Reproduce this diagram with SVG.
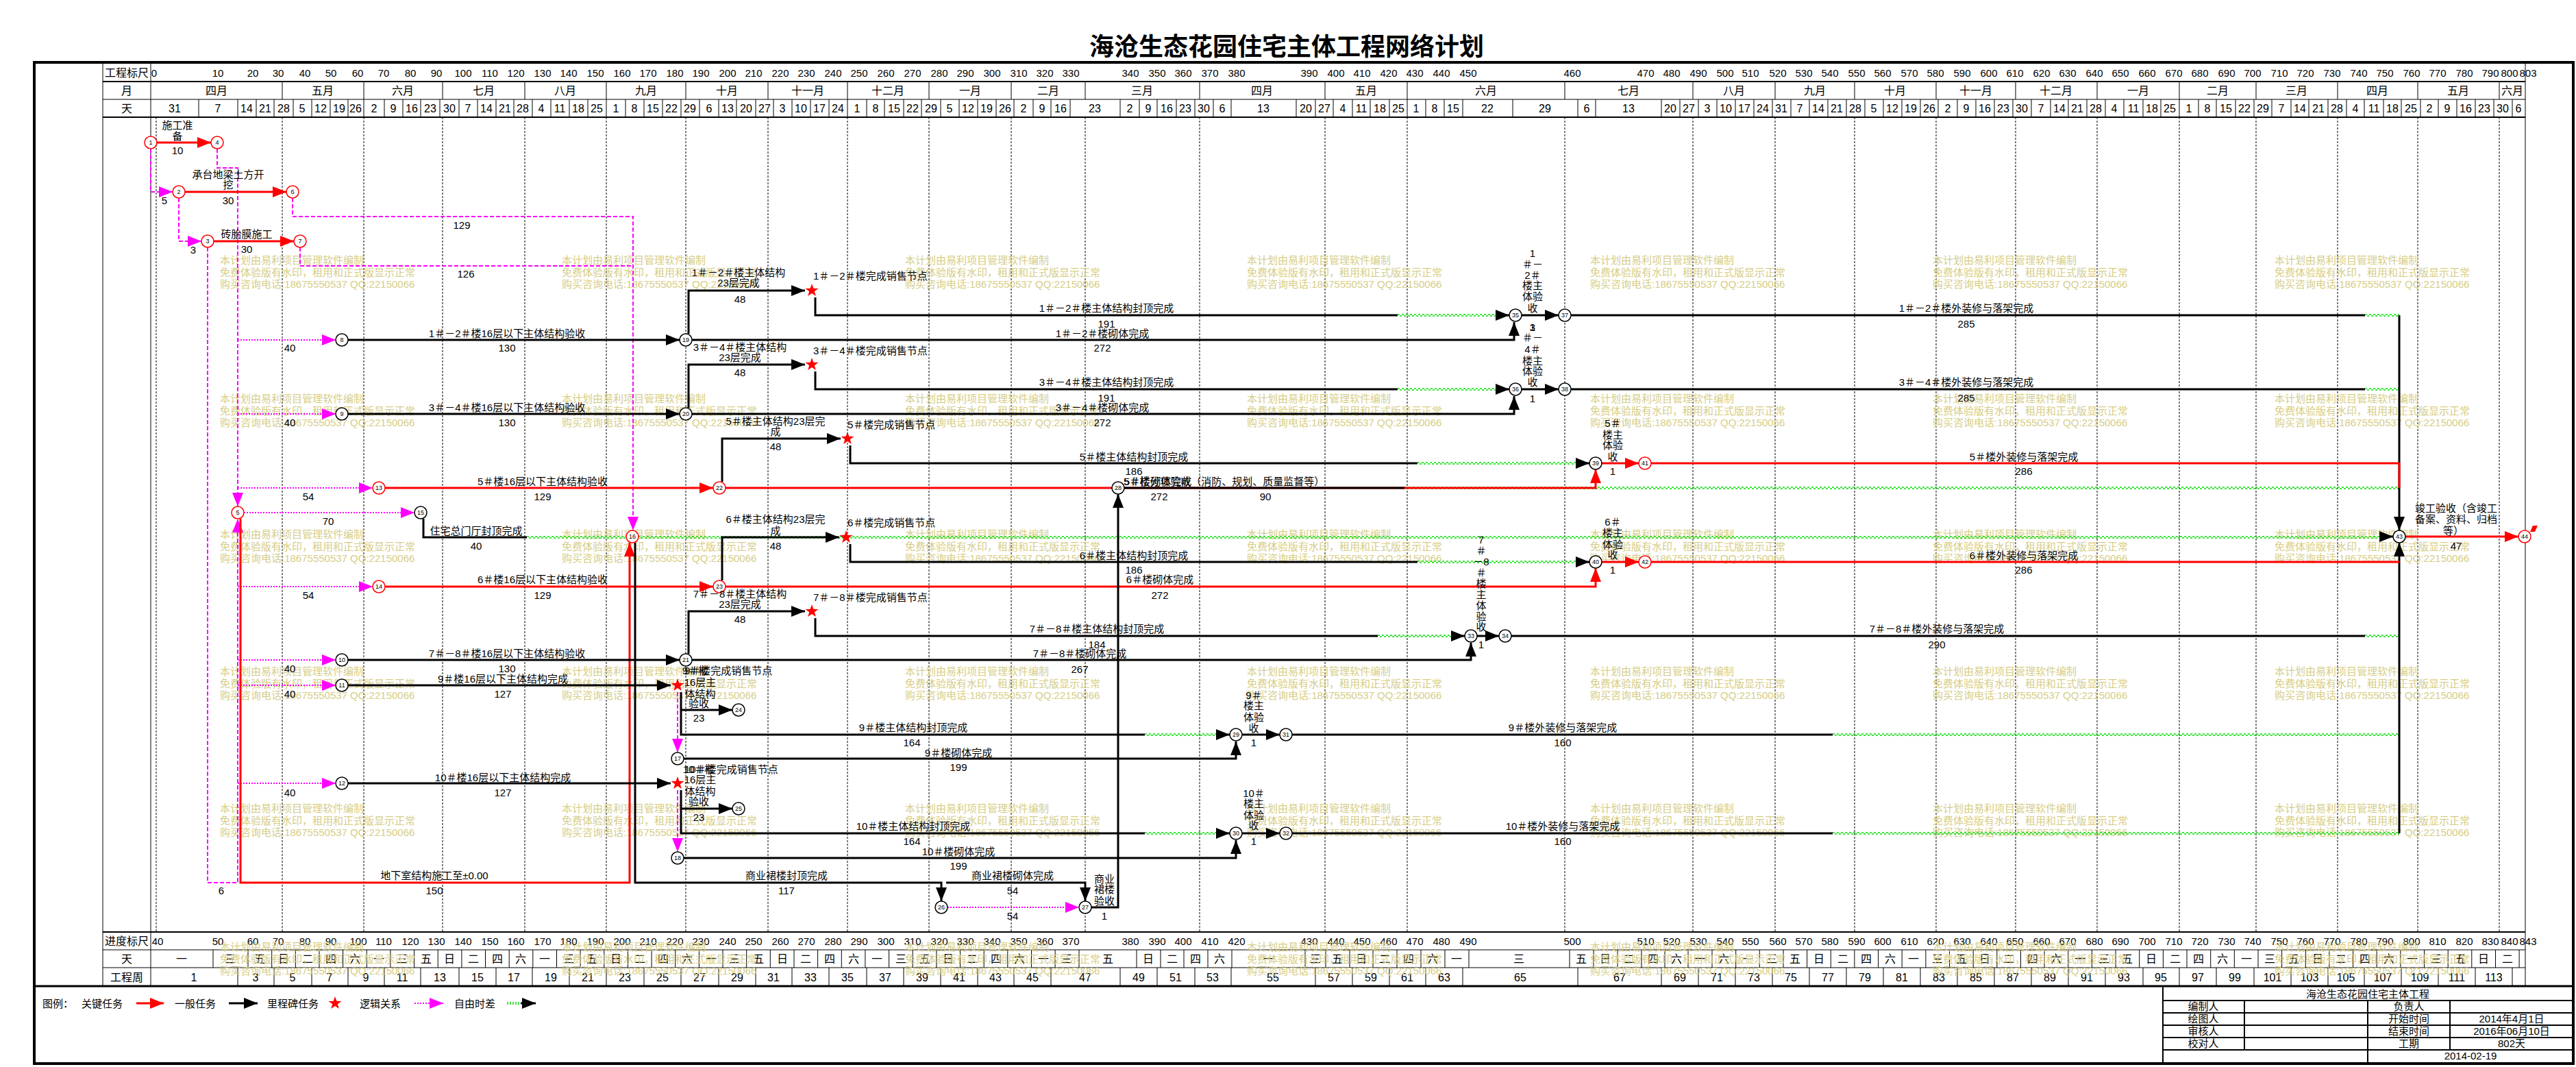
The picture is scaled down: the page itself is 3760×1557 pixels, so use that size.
<svg xmlns="http://www.w3.org/2000/svg" width="3760" height="1557" viewBox="0 0 3760 1557">
<style>
text{font-family:"Liberation Sans","Noto Sans CJK SC",sans-serif;fill:#000}
.c{font-size:16px;text-anchor:middle}
.r{font-size:15px;text-anchor:middle}
.t{font-size:15px;text-anchor:middle}
.s{font-size:15px}
.wm{font-size:15px;fill:#d6cd86}
.nt{font-size:9px;text-anchor:middle}
.tt{font-size:36px;font-weight:bold;text-anchor:middle}
.crit{stroke:#f00;stroke-width:3;fill:none}
.norm{stroke:#000;stroke-width:3;fill:none}
.lh{stroke:#f0f;stroke-width:2;stroke-dasharray:2 2;fill:none}
.lv{stroke:#f0f;stroke-width:2;stroke-dasharray:6 3;fill:none}
.gz{stroke:#00dd00;stroke-width:1.3;stroke-dasharray:3 3;fill:none}
.nr{fill:#fff;stroke:#f00;stroke-width:1.5}
.nb{fill:#fff;stroke:#000;stroke-width:1.5}
.g1{stroke:#000;stroke-width:1;fill:none}
.g2{stroke:#000;stroke-width:2;fill:none}
.md{stroke:#000;stroke-width:1;stroke-dasharray:3 2;fill:none}
</style>
<defs>
<marker id="aR" viewBox="0 0 20 16" refX="20" refY="8" markerWidth="20" markerHeight="16" markerUnits="userSpaceOnUse" orient="auto"><path d="M0,0L20,8L0,16z" fill="#f00"/></marker>
<marker id="aK" viewBox="0 0 20 16" refX="20" refY="8" markerWidth="20" markerHeight="16" markerUnits="userSpaceOnUse" orient="auto"><path d="M0,0L20,8L0,16z" fill="#000"/></marker>
<marker id="aM" viewBox="0 0 20 16" refX="20" refY="8" markerWidth="20" markerHeight="16" markerUnits="userSpaceOnUse" orient="auto"><path d="M0,0L20,8L0,16z" fill="#f0f"/></marker>
<path id="star" d="M0,-10L2.35,-3.24L9.51,-3.09L3.8,1.24L5.88,8.09L0,4L-5.88,8.09L-3.8,1.24L-9.51,-3.09L-2.35,-3.24Z" fill="#f00"/>
<g id="wm"><text class="wm" x="0" y="0">本计划由易利项目管理软件编制</text><text class="wm" x="0" y="18">免费体验版有水印，租用和正式版显示正常</text><text class="wm" x="0" y="35">购买咨询电话:18675550537 QQ:22150066</text></g>
</defs>
<rect width="3760" height="1557" fill="#fff"/>

<text class="tt" x="1878" y="81">海沧生态花园住宅主体工程网络计划</text>

<g id="frame">
<rect x="50" y="91" width="3706" height="1461" fill="none" stroke="#000" stroke-width="4"/>
<path class="g2" d="M150,119H3686M150,171H3686M150,1360H3686"/>
<path class="g1" d="M150,145H3686M150,1386H3686M150,1412H3686M150,93V1439M220,93V1439M3686,93V1439"/>
<path d="M50,1439H3756" stroke="#000" stroke-width="3"/>
<path class="md" d="M228,171V1360"/>
</g>

<g id="header">
<text class="c" x="185" y="112">工程标尺</text>
<text class="c" x="185" y="138">月</text>
<text class="c" x="185" y="164">天</text>
<text class="c" x="185" y="1379">进度标尺</text>
<text class="c" x="185" y="1405">天</text>
<text class="c" x="185" y="1432">工程周</text>
<text class="r" y="112"><tspan x="225">0</tspan><tspan x="318">10</tspan><tspan x="369">20</tspan><tspan x="406">30</tspan><tspan x="445">40</tspan><tspan x="483">50</tspan><tspan x="522">60</tspan><tspan x="560">70</tspan><tspan x="599">80</tspan><tspan x="637">90</tspan><tspan x="676">100</tspan><tspan x="715">110</tspan><tspan x="753">120</tspan><tspan x="792">130</tspan><tspan x="830">140</tspan><tspan x="869">150</tspan><tspan x="908">160</tspan><tspan x="946">170</tspan><tspan x="985">180</tspan><tspan x="1023">190</tspan><tspan x="1062">200</tspan><tspan x="1100">210</tspan><tspan x="1139">220</tspan><tspan x="1177">230</tspan><tspan x="1216">240</tspan><tspan x="1254">250</tspan><tspan x="1293">260</tspan><tspan x="1332">270</tspan><tspan x="1371">280</tspan><tspan x="1409">290</tspan><tspan x="1448">300</tspan><tspan x="1487">310</tspan><tspan x="1525">320</tspan><tspan x="1563">330</tspan><tspan x="1650">340</tspan><tspan x="1689">350</tspan><tspan x="1727">360</tspan><tspan x="1766">370</tspan><tspan x="1805">380</tspan><tspan x="1911">390</tspan><tspan x="1950">400</tspan><tspan x="1988">410</tspan><tspan x="2027">420</tspan><tspan x="2065">430</tspan><tspan x="2104">440</tspan><tspan x="2143">450</tspan><tspan x="2295">460</tspan><tspan x="2402">470</tspan><tspan x="2440">480</tspan><tspan x="2479">490</tspan><tspan x="2518">500</tspan><tspan x="2555">510</tspan><tspan x="2595">520</tspan><tspan x="2633">530</tspan><tspan x="2671">540</tspan><tspan x="2710">550</tspan><tspan x="2748">560</tspan><tspan x="2787">570</tspan><tspan x="2825">580</tspan><tspan x="2864">590</tspan><tspan x="2903">600</tspan><tspan x="2941">610</tspan><tspan x="2980">620</tspan><tspan x="3018">630</tspan><tspan x="3057">640</tspan><tspan x="3095">650</tspan><tspan x="3134">660</tspan><tspan x="3173">670</tspan><tspan x="3211">680</tspan><tspan x="3250">690</tspan><tspan x="3288">700</tspan><tspan x="3327">710</tspan><tspan x="3365">720</tspan><tspan x="3404">730</tspan><tspan x="3443">740</tspan><tspan x="3481">750</tspan><tspan x="3520">760</tspan><tspan x="3558">770</tspan><tspan x="3597">780</tspan><tspan x="3635">790</tspan><tspan x="3663">800</tspan><tspan x="3690">803</tspan></text>
<text class="r" y="1379"><tspan x="230">40</tspan><tspan x="318">50</tspan><tspan x="369">60</tspan><tspan x="406">70</tspan><tspan x="445">80</tspan><tspan x="483">90</tspan><tspan x="523">100</tspan><tspan x="560">110</tspan><tspan x="599">120</tspan><tspan x="637">130</tspan><tspan x="676">140</tspan><tspan x="715">150</tspan><tspan x="753">160</tspan><tspan x="792">170</tspan><tspan x="830">180</tspan><tspan x="869">190</tspan><tspan x="908">200</tspan><tspan x="946">210</tspan><tspan x="985">220</tspan><tspan x="1023">230</tspan><tspan x="1062">240</tspan><tspan x="1100">250</tspan><tspan x="1139">260</tspan><tspan x="1177">270</tspan><tspan x="1216">280</tspan><tspan x="1254">290</tspan><tspan x="1293">300</tspan><tspan x="1332">310</tspan><tspan x="1371">320</tspan><tspan x="1409">330</tspan><tspan x="1448">340</tspan><tspan x="1487">350</tspan><tspan x="1525">360</tspan><tspan x="1563">370</tspan><tspan x="1650">380</tspan><tspan x="1689">390</tspan><tspan x="1727">400</tspan><tspan x="1766">410</tspan><tspan x="1805">420</tspan><tspan x="1911">430</tspan><tspan x="1950">440</tspan><tspan x="1988">450</tspan><tspan x="2027">460</tspan><tspan x="2065">470</tspan><tspan x="2104">480</tspan><tspan x="2143">490</tspan><tspan x="2295">500</tspan><tspan x="2402">510</tspan><tspan x="2440">520</tspan><tspan x="2479">530</tspan><tspan x="2518">540</tspan><tspan x="2555">550</tspan><tspan x="2595">560</tspan><tspan x="2633">570</tspan><tspan x="2671">580</tspan><tspan x="2710">590</tspan><tspan x="2748">600</tspan><tspan x="2787">610</tspan><tspan x="2825">620</tspan><tspan x="2864">630</tspan><tspan x="2903">640</tspan><tspan x="2941">650</tspan><tspan x="2980">660</tspan><tspan x="3018">670</tspan><tspan x="3057">680</tspan><tspan x="3095">690</tspan><tspan x="3134">700</tspan><tspan x="3173">710</tspan><tspan x="3211">720</tspan><tspan x="3250">730</tspan><tspan x="3288">740</tspan><tspan x="3327">750</tspan><tspan x="3365">760</tspan><tspan x="3404">770</tspan><tspan x="3443">780</tspan><tspan x="3481">790</tspan><tspan x="3520">800</tspan><tspan x="3558">810</tspan><tspan x="3597">820</tspan><tspan x="3635">830</tspan><tspan x="3663">840</tspan><tspan x="3690">843</tspan></text>
<text class="c" y="138"><tspan x="316">四月</tspan><tspan x="471">五月</tspan><tspan x="588">六月</tspan><tspan x="706">七月</tspan><tspan x="825">八月</tspan><tspan x="943">九月</tspan><tspan x="1061">十月</tspan><tspan x="1179">十一月</tspan><tspan x="1296">十二月</tspan><tspan x="1416">一月</tspan><tspan x="1530">二月</tspan><tspan x="1667">三月</tspan><tspan x="1842">四月</tspan><tspan x="1994">五月</tspan><tspan x="2169">六月</tspan><tspan x="2377">七月</tspan><tspan x="2531">八月</tspan><tspan x="2649">九月</tspan><tspan x="2766">十月</tspan><tspan x="2884">十一月</tspan><tspan x="3001">十二月</tspan><tspan x="3121">一月</tspan><tspan x="3237">二月</tspan><tspan x="3352">三月</tspan><tspan x="3470">四月</tspan><tspan x="3588">五月</tspan><tspan x="3667">六月</tspan></text>
<path class="g1" d="M412,119v26M531,119v26M646,119v26M766,119v26M885,119v26M1001,119v26M1121,119v26M1237,119v26M1356,119v26M1476,119v26M1584,119v26M1751,119v26M1934,119v26M2054,119v26M2284,119v26M2471,119v26M2591,119v26M2707,119v26M2826,119v26M2942,119v26M3061,119v26M3181,119v26M3293,119v26M3412,119v26M3529,119v26M3648,119v26"/>
<path class="md" d="M412,171V1360M531,171V1360M646,171V1360M766,171V1360M885,171V1360M1001,171V1360M1121,171V1360M1237,171V1360M1356,171V1360M1476,171V1360M1584,171V1360M1751,171V1360M1934,171V1360M2054,171V1360M2284,171V1360M2471,171V1360M2591,171V1360M2707,171V1360M2826,171V1360M2942,171V1360M3061,171V1360M3181,171V1360M3293,171V1360M3412,171V1360M3529,171V1360M3648,171V1360"/>
<text class="c" y="164"><tspan x="255">31</tspan><tspan x="318">7</tspan><tspan x="360">14</tspan><tspan x="387">21</tspan><tspan x="414">28</tspan><tspan x="441">5</tspan><tspan x="468">12</tspan><tspan x="495">19</tspan><tspan x="519">26</tspan><tspan x="546">2</tspan><tspan x="574">9</tspan><tspan x="601">16</tspan><tspan x="628">23</tspan><tspan x="656">30</tspan><tspan x="683">7</tspan><tspan x="710">14</tspan><tspan x="737">21</tspan><tspan x="763">28</tspan><tspan x="790">4</tspan><tspan x="817">11</tspan><tspan x="844">18</tspan><tspan x="871">25</tspan><tspan x="899">1</tspan><tspan x="926">8</tspan><tspan x="953">15</tspan><tspan x="980">22</tspan><tspan x="1007">29</tspan><tspan x="1035">6</tspan><tspan x="1062">13</tspan><tspan x="1089">20</tspan><tspan x="1116">27</tspan><tspan x="1142">3</tspan><tspan x="1169">10</tspan><tspan x="1196">17</tspan><tspan x="1223">24</tspan><tspan x="1251">1</tspan><tspan x="1278">8</tspan><tspan x="1305">15</tspan><tspan x="1332">22</tspan><tspan x="1359">29</tspan><tspan x="1386">5</tspan><tspan x="1413">12</tspan><tspan x="1440">19</tspan><tspan x="1467">26</tspan><tspan x="1494">2</tspan><tspan x="1521">9</tspan><tspan x="1548">16</tspan><tspan x="1598">23</tspan><tspan x="1649">2</tspan><tspan x="1676">9</tspan><tspan x="1703">16</tspan><tspan x="1730">23</tspan><tspan x="1757">30</tspan><tspan x="1784">6</tspan><tspan x="1844">13</tspan><tspan x="1906">20</tspan><tspan x="1933">27</tspan><tspan x="1960">4</tspan><tspan x="1987">11</tspan><tspan x="2014">18</tspan><tspan x="2041">25</tspan><tspan x="2067">1</tspan><tspan x="2094">8</tspan><tspan x="2121">15</tspan><tspan x="2171">22</tspan><tspan x="2255">29</tspan><tspan x="2316">6</tspan><tspan x="2377">13</tspan><tspan x="2438">20</tspan><tspan x="2465">27</tspan><tspan x="2492">3</tspan><tspan x="2519">10</tspan><tspan x="2546">17</tspan><tspan x="2573">24</tspan><tspan x="2600">31</tspan><tspan x="2627">7</tspan><tspan x="2654">14</tspan><tspan x="2681">21</tspan><tspan x="2708">28</tspan><tspan x="2735">5</tspan><tspan x="2762">12</tspan><tspan x="2789">19</tspan><tspan x="2816">26</tspan><tspan x="2843">2</tspan><tspan x="2870">9</tspan><tspan x="2897">16</tspan><tspan x="2924">23</tspan><tspan x="2951">30</tspan><tspan x="2979">7</tspan><tspan x="3006">14</tspan><tspan x="3032">21</tspan><tspan x="3059">28</tspan><tspan x="3086">4</tspan><tspan x="3114">11</tspan><tspan x="3141">18</tspan><tspan x="3167">25</tspan><tspan x="3195">1</tspan><tspan x="3222">8</tspan><tspan x="3249">15</tspan><tspan x="3276">22</tspan><tspan x="3303">29</tspan><tspan x="3330">7</tspan><tspan x="3357">14</tspan><tspan x="3384">21</tspan><tspan x="3411">28</tspan><tspan x="3438">4</tspan><tspan x="3465">11</tspan><tspan x="3492">18</tspan><tspan x="3519">25</tspan><tspan x="3546">2</tspan><tspan x="3572">9</tspan><tspan x="3599">16</tspan><tspan x="3626">23</tspan><tspan x="3653">30</tspan><tspan x="3676">6</tspan></text>
<path class="g1" d="M290,145v26M347,145v26M374,145v26M400,145v26M428,145v26M455,145v26M482,145v26M508,145v26M531,145v26M561,145v26M588,145v26M614,145v26M642,145v26M670,145v26M697,145v26M724,145v26M750,145v26M777,145v26M804,145v26M831,145v26M858,145v26M885,145v26M913,145v26M940,145v26M967,145v26M994,145v26M1021,145v26M1049,145v26M1075,145v26M1103,145v26M1129,145v26M1156,145v26M1183,145v26M1210,145v26M1237,145v26M1265,145v26M1291,145v26M1319,145v26M1345,145v26M1373,145v26M1400,145v26M1427,145v26M1454,145v26M1480,145v26M1508,145v26M1534,145v26M1562,145v26M1635,145v26M1663,145v26M1689,145v26M1717,145v26M1744,145v26M1771,145v26M1797,145v26M1892,145v26M1920,145v26M1946,145v26M1974,145v26M2000,145v26M2028,145v26M2054,145v26M2081,145v26M2108,145v26M2135,145v26M2208,145v26M2303,145v26M2329,145v26M2425,145v26M2452,145v26M2479,145v26M2506,145v26M2533,145v26M2560,145v26M2587,145v26M2614,145v26M2641,145v26M2668,145v26M2695,145v26M2722,145v26M2749,145v26M2776,145v26M2803,145v26M2829,145v26M2857,145v26M2884,145v26M2911,145v26M2938,145v26M2965,145v26M2993,145v26M3019,145v26M3046,145v26M3073,145v26M3100,145v26M3128,145v26M3154,145v26M3181,145v26M3209,145v26M3235,145v26M3263,145v26M3290,145v26M3316,145v26M3344,145v26M3370,145v26M3398,145v26M3425,145v26M3451,145v26M3479,145v26M3505,145v26M3533,145v26M3559,145v26M3586,145v26M3613,145v26M3640,145v26M3667,145v26"/>
<text class="c" y="1405"><tspan x="265">一</tspan><tspan x="336">三</tspan><tspan x="379">五</tspan><tspan x="414">日</tspan><tspan x="449">二</tspan><tspan x="483">四</tspan><tspan x="518">六</tspan><tspan x="553">一</tspan><tspan x="587">三</tspan><tspan x="622">五</tspan><tspan x="656">日</tspan><tspan x="691">二</tspan><tspan x="726">四</tspan><tspan x="760">六</tspan><tspan x="795">一</tspan><tspan x="830">三</tspan><tspan x="864">五</tspan><tspan x="899">日</tspan><tspan x="934">二</tspan><tspan x="968">四</tspan><tspan x="1003">六</tspan><tspan x="1038">一</tspan><tspan x="1072">三</tspan><tspan x="1107">五</tspan><tspan x="1142">日</tspan><tspan x="1176">二</tspan><tspan x="1211">四</tspan><tspan x="1246">六</tspan><tspan x="1280">一</tspan><tspan x="1315">三</tspan><tspan x="1350">五</tspan><tspan x="1384">日</tspan><tspan x="1419">二</tspan><tspan x="1454">四</tspan><tspan x="1488">六</tspan><tspan x="1523">一</tspan><tspan x="1557">三</tspan><tspan x="1617">五</tspan><tspan x="1676">日</tspan><tspan x="1711">二</tspan><tspan x="1745">四</tspan><tspan x="1780">六</tspan><tspan x="1851">一</tspan><tspan x="1920">三</tspan><tspan x="1952">五</tspan><tspan x="1987">日</tspan><tspan x="2021">二</tspan><tspan x="2056">四</tspan><tspan x="2091">六</tspan><tspan x="2126">一</tspan><tspan x="2217">三</tspan><tspan x="2308">五</tspan><tspan x="2343">日</tspan><tspan x="2378">二</tspan><tspan x="2413">四</tspan><tspan x="2447">六</tspan><tspan x="2481">一</tspan><tspan x="2516">六</tspan><tspan x="2551">一</tspan><tspan x="2586">三</tspan><tspan x="2620">五</tspan><tspan x="2655">日</tspan><tspan x="2690">二</tspan><tspan x="2724">四</tspan><tspan x="2759">六</tspan><tspan x="2793">一</tspan><tspan x="2828">三</tspan><tspan x="2863">五</tspan><tspan x="2897">日</tspan><tspan x="2932">二</tspan><tspan x="2967">四</tspan><tspan x="3001">六</tspan><tspan x="3036">一</tspan><tspan x="3071">三</tspan><tspan x="3105">五</tspan><tspan x="3140">日</tspan><tspan x="3175">二</tspan><tspan x="3209">四</tspan><tspan x="3244">六</tspan><tspan x="3279">一</tspan><tspan x="3313">三</tspan><tspan x="3348">五</tspan><tspan x="3383">日</tspan><tspan x="3417">二</tspan><tspan x="3452">四</tspan><tspan x="3487">六</tspan><tspan x="3521">一</tspan><tspan x="3556">三</tspan><tspan x="3591">五</tspan><tspan x="3625">日</tspan><tspan x="3660">二</tspan></text>
<path class="g1" d="M311,1386v26M362,1386v26M396.7,1386v26M431.3,1386v26M466,1386v26M500.6,1386v26M535.3,1386v26M569.9,1386v26M604.6,1386v26M639.2,1386v26M673.9,1386v26M708.5,1386v26M743.2,1386v26M777.8,1386v26M812.5,1386v26M847.1,1386v26M881.8,1386v26M916.4,1386v26M951.1,1386v26M985.7,1386v26M1020.4,1386v26M1055,1386v26M1089.7,1386v26M1124.3,1386v26M1159,1386v26M1193.6,1386v26M1228.3,1386v26M1262.9,1386v26M1297.6,1386v26M1332.2,1386v26M1366.9,1386v26M1401.5,1386v26M1436.2,1386v26M1470.8,1386v26M1505.5,1386v26M1540.1,1386v26M1575,1386v26M1659,1386v26M1694,1386v26M1728,1386v26M1763,1386v26M1798,1386v26M1905,1386v26M1935,1386v26M1970,1386v26M2004,1386v26M2039,1386v26M2074,1386v26M2109,1386v26M2144,1386v26M2291,1386v26M2326,1386v26M2361,1386v26M2396,1386v26M2430,1386v26M2464,1386v26M2499,1386v26M2533.7,1386v26M2568.3,1386v26M2603,1386v26M2637.6,1386v26M2672.3,1386v26M2706.9,1386v26M2741.6,1386v26M2776.2,1386v26M2810.9,1386v26M2845.5,1386v26M2880.2,1386v26M2914.8,1386v26M2949.5,1386v26M2984.1,1386v26M3018.8,1386v26M3053.4,1386v26M3088.1,1386v26M3122.7,1386v26M3157.4,1386v26M3192,1386v26M3226.7,1386v26M3261.3,1386v26M3296,1386v26M3330.6,1386v26M3365.3,1386v26M3399.9,1386v26M3434.6,1386v26M3469.2,1386v26M3503.9,1386v26M3538.5,1386v26M3573.2,1386v26M3607.8,1386v26M3642.5,1386v26M3677.1,1386v26"/>
<text class="c" y="1432"><tspan x="283">1</tspan><tspan x="373">3</tspan><tspan x="427">5</tspan><tspan x="481">7</tspan><tspan x="534">9</tspan><tspan x="587">11</tspan><tspan x="642">13</tspan><tspan x="697">15</tspan><tspan x="750">17</tspan><tspan x="804">19</tspan><tspan x="858">21</tspan><tspan x="912">23</tspan><tspan x="967">25</tspan><tspan x="1021">27</tspan><tspan x="1076">29</tspan><tspan x="1129">31</tspan><tspan x="1183">33</tspan><tspan x="1237">35</tspan><tspan x="1292">37</tspan><tspan x="1346">39</tspan><tspan x="1400">41</tspan><tspan x="1453">43</tspan><tspan x="1507">45</tspan><tspan x="1584">47</tspan><tspan x="1662">49</tspan><tspan x="1716">51</tspan><tspan x="1770">53</tspan><tspan x="1858">55</tspan><tspan x="1947">57</tspan><tspan x="2001">59</tspan><tspan x="2054">61</tspan><tspan x="2108">63</tspan><tspan x="2219">65</tspan><tspan x="2364">67</tspan><tspan x="2452">69</tspan><tspan x="2506">71</tspan><tspan x="2560">73</tspan><tspan x="2614">75</tspan><tspan x="2668">77</tspan><tspan x="2722">79</tspan><tspan x="2776">81</tspan><tspan x="2830">83</tspan><tspan x="2884">85</tspan><tspan x="2938">87</tspan><tspan x="2992">89</tspan><tspan x="3046">91</tspan><tspan x="3100">93</tspan><tspan x="3154">95</tspan><tspan x="3208">97</tspan><tspan x="3262">99</tspan><tspan x="3317">101</tspan><tspan x="3371">103</tspan><tspan x="3424">105</tspan><tspan x="3478">107</tspan><tspan x="3532">109</tspan><tspan x="3586">111</tspan><tspan x="3640">113</tspan></text>
<path class="g1" d="M347,1412v27M400,1412v27M455,1412v27M508,1412v27M561,1412v27M614,1412v27M670,1412v27M724,1412v27M777,1412v27M831,1412v27M885,1412v27M940,1412v27M994,1412v27M1049,1412v27M1103,1412v27M1156,1412v27M1210,1412v27M1265,1412v27M1319,1412v27M1373,1412v27M1427,1412v27M1480,1412v27M1534,1412v27M1635,1412v27M1689,1412v27M1744,1412v27M1797,1412v27M1920,1412v27M1974,1412v27M2028,1412v27M2081,1412v27M2135,1412v27M2303,1412v27M2425,1412v27M2479,1412v27M2533,1412v27M2587,1412v27M2641,1412v27M2695,1412v27M2749,1412v27M2803,1412v27M2857,1412v27M2911,1412v27M2965,1412v27M3019,1412v27M3073,1412v27M3128,1412v27M3181,1412v27M3235,1412v27M3290,1412v27M3344,1412v27M3398,1412v27M3451,1412v27M3505,1412v27M3559,1412v27M3613,1412v27M3667,1412v27"/>
</g>

<g id="watermarks">
<use href="#wm" x="321" y="385"/><use href="#wm" x="820" y="385"/><use href="#wm" x="1321" y="385"/><use href="#wm" x="1820" y="385"/><use href="#wm" x="2321" y="385"/><use href="#wm" x="2821" y="385"/><use href="#wm" x="3320" y="385"/>
<use href="#wm" x="321" y="587"/><use href="#wm" x="820" y="587"/><use href="#wm" x="1321" y="587"/><use href="#wm" x="1820" y="587"/><use href="#wm" x="2321" y="587"/><use href="#wm" x="2821" y="587"/><use href="#wm" x="3320" y="587"/>
<use href="#wm" x="321" y="785"/><use href="#wm" x="820" y="785"/><use href="#wm" x="1321" y="785"/><use href="#wm" x="1820" y="785"/><use href="#wm" x="2321" y="785"/><use href="#wm" x="2821" y="785"/><use href="#wm" x="3320" y="785"/>
<use href="#wm" x="321" y="985"/><use href="#wm" x="820" y="985"/><use href="#wm" x="1321" y="985"/><use href="#wm" x="1820" y="985"/><use href="#wm" x="2321" y="985"/><use href="#wm" x="2821" y="985"/><use href="#wm" x="3320" y="985"/>
<use href="#wm" x="321" y="1185"/><use href="#wm" x="820" y="1185"/><use href="#wm" x="1321" y="1185"/><use href="#wm" x="1820" y="1185"/><use href="#wm" x="2321" y="1185"/><use href="#wm" x="2821" y="1185"/><use href="#wm" x="3320" y="1185"/>
<use href="#wm" x="321" y="1387"/><use href="#wm" x="820" y="1387"/><use href="#wm" x="1321" y="1387"/><use href="#wm" x="1820" y="1387"/><use href="#wm" x="2321" y="1387"/><use href="#wm" x="2821" y="1387"/><use href="#wm" x="3320" y="1387"/>
</g>

<g id="connectors">
<path id="gzp" class="gz" d="M769,783H914M932,783H3480M2040,459H2186M3452,459H3502M2040,567H2186M3452,567H3502M2069,675H2302M2050,711H3502M2069,819H2302M2011,927H2120M3452,927H3502M1671,1071H1778M2675,1071H3502M1671,1215H1778M2675,1215H3502"/>
<use href="#gzp" y="2" style="stroke-dashoffset:3"/>

<path class="lv" d="M220,217V280H252" marker-end="url(#aM)"/>
<path class="lv" d="M261,289V352H294" marker-end="url(#aM)"/>
<path class="lv" d="M317,217V245H347V739" marker-end="url(#aM)"/>
<path class="lv" d="M427,289V316H924V774" marker-end="url(#aM)"/>
<path class="lv" d="M438,361V388H924"/>
<path class="lv" d="M303,361V1288H347V757" marker-end="url(#aM)"/>
<path class="lh" d="M347,496H490" marker-end="url(#aM)"/>
<path class="lh" d="M347,604H490" marker-end="url(#aM)"/>
<path class="lh" d="M347,712H544" marker-end="url(#aM)"/>
<path class="lh" d="M356,748H605" marker-end="url(#aM)"/>
<path class="lh" d="M347,856H544" marker-end="url(#aM)"/>
<path class="lh" d="M347,963H490" marker-end="url(#aM)"/>
<path class="lh" d="M347,1000H490" marker-end="url(#aM)"/>
<path class="lh" d="M347,1143H490" marker-end="url(#aM)"/>
<path class="lv" d="M989,1010V1098" marker-end="url(#aM)"/>
<path class="lv" d="M989,1153V1243" marker-end="url(#aM)"/>
<path class="lh" d="M1383,1324H1575" marker-end="url(#aM)"/>

<path class="crit" d="M229,208H308" marker-end="url(#aR)"/>
<path class="crit" d="M270,280H418" marker-end="url(#aR)"/>
<path class="crit" d="M312,352H429" marker-end="url(#aR)"/>
<path class="crit" d="M351,757V1288H919V792" marker-end="url(#aR)"/>
<path class="crit" d="M562,712H1041" marker-end="url(#aR)"/>
<path class="crit" d="M562,856H1041" marker-end="url(#aR)"/>
<path class="crit" d="M1059,712H2329V685" marker-end="url(#aR)"/>
<path class="crit" d="M1059,856H2329V829" marker-end="url(#aR)"/>
<path class="crit" d="M2338,676H2392" marker-end="url(#aR)"/>
<path class="crit" d="M2338,820H2392" marker-end="url(#aR)"/>

<path class="norm" d="M508,496H992" marker-end="url(#aK)"/>
<path class="norm" d="M508,604H992" marker-end="url(#aK)"/>
<path class="norm" d="M508,963H992" marker-end="url(#aK)"/>
<path class="norm" d="M508,1000H979" marker-end="url(#aK)"/>
<path class="norm" d="M508,1143H979" marker-end="url(#aK)"/>
<path class="norm" d="M618,757V784H769"/>
<path class="norm" d="M1005,487V424H1175" marker-end="url(#aK)"/>
<path class="norm" d="M1005,595V532H1175" marker-end="url(#aK)"/>
<path class="norm" d="M1054,703V640H1227" marker-end="url(#aK)"/>
<path class="norm" d="M1054,847V784H1225" marker-end="url(#aK)"/>
<path class="norm" d="M1005,954V892H1175" marker-end="url(#aK)"/>
<path class="norm" d="M1190,434V460H2040"/>
<path class="norm" d="M1190,542V568H2040"/>
<path class="norm" d="M1241,650V676H2069"/>
<path class="norm" d="M1241,794V820H2069"/>
<path class="norm" d="M1190,902V928H2011"/>
<path class="norm" d="M994,1010V1072H1671"/>
<path class="norm" d="M994,1036H1069" marker-end="url(#aK)"/>
<path class="norm" d="M994,1153V1216H1671"/>
<path class="norm" d="M994,1180H1069" marker-end="url(#aK)"/>
<path class="norm" d="M1010,496H2210V470" marker-end="url(#aK)"/>
<path class="norm" d="M1010,604H2210V578" marker-end="url(#aK)"/>
<path class="norm" d="M1010,963H2147V938" marker-end="url(#aK)"/>
<path class="norm" d="M998,1107H1804V1082" marker-end="url(#aK)"/>
<path class="norm" d="M998,1252H1804V1226" marker-end="url(#aK)"/>
<path class="norm" d="M2186,460H2203" marker-end="url(#aK)"/>
<path class="norm" d="M2186,568H2203" marker-end="url(#aK)"/>
<path class="norm" d="M2302,676H2320" marker-end="url(#aK)"/>
<path class="norm" d="M2302,820H2320" marker-end="url(#aK)"/>
<path class="norm" d="M2120,928H2138" marker-end="url(#aK)"/>
<path class="norm" d="M1778,1072H1795" marker-end="url(#aK)"/>
<path class="norm" d="M1778,1216H1795" marker-end="url(#aK)"/>
<path class="norm" d="M2221,460H2275" marker-end="url(#aK)"/>
<path class="norm" d="M2221,568H2275" marker-end="url(#aK)"/>
<path class="norm" d="M2156,928H2188" marker-end="url(#aK)"/>
<path class="norm" d="M1813,1072H1868" marker-end="url(#aK)"/>
<path class="norm" d="M1813,1216H1868" marker-end="url(#aK)"/>
<path class="norm" d="M2293,460H3452"/>
<path class="norm" d="M2293,568H3452"/>
<path class="norm" d="M2206,928H3452"/>
<path class="norm" d="M1886,1072H2675"/>
<path class="norm" d="M1886,1216H2675"/>
<path class="norm" d="M1641,712H2050"/>
<path class="norm" d="M3502,460V774" marker-end="url(#aK)"/>
<path class="norm" d="M3502,1216V792" marker-end="url(#aK)"/>
<path class="norm" d="M3478,783H3493" marker-end="url(#aK)"/>
<path class="norm" d="M927,792V1288H1374V1315" marker-end="url(#aK)"/>
<path class="norm" d="M1381,1288H1584V1315" marker-end="url(#aK)"/>
<path class="norm" d="M1593,1324H1632V721" marker-end="url(#aK)"/>

<path class="crit" d="M2410,676H3502V712"/>
<path class="crit" d="M2410,820H3502"/>
<path class="crit" d="M3511,783H3676" marker-end="url(#aR)"/>
<path d="M3693,776L3697,767L3704,767L3700,776Z" fill="#f00"/>
</g>

<g id="stars">
<use href="#star" x="1185" y="424"/>
<use href="#star" x="1185" y="532"/>
<use href="#star" x="1237" y="640"/>
<use href="#star" x="1235" y="784"/>
<use href="#star" x="1185" y="892"/>
<use href="#star" x="989" y="1000"/>
<use href="#star" x="989" y="1143"/>
</g>

<g id="nodes">
<g id="n1"><circle cx="220" cy="208" r="9" class="nr"/><text class="nt" x="220" y="211">1</text></g>
<g id="n4"><circle cx="317" cy="208" r="9" class="nr"/><text class="nt" x="317" y="211">4</text></g>
<g id="n2"><circle cx="261" cy="280" r="9" class="nr"/><text class="nt" x="261" y="283">2</text></g>
<g id="n6"><circle cx="427" cy="280" r="9" class="nr"/><text class="nt" x="427" y="283">6</text></g>
<g id="n3"><circle cx="303" cy="352" r="9" class="nr"/><text class="nt" x="303" y="355">3</text></g>
<g id="n7"><circle cx="438" cy="352" r="9" class="nr"/><text class="nt" x="438" y="355">7</text></g>
<g id="n5"><circle cx="347" cy="748" r="9" class="nr"/><text class="nt" x="347" y="751">5</text></g>
<g id="n8"><circle cx="499" cy="496" r="9" class="nb"/><text class="nt" x="499" y="499">8</text></g>
<g id="n9"><circle cx="499" cy="604" r="9" class="nb"/><text class="nt" x="499" y="607">9</text></g>
<g id="n13"><circle cx="553" cy="712" r="9" class="nr"/><text class="nt" x="553" y="715">13</text></g>
<g id="n15"><circle cx="614" cy="748" r="9" class="nb"/><text class="nt" x="614" y="751">15</text></g>
<g id="n14"><circle cx="553" cy="856" r="9" class="nr"/><text class="nt" x="553" y="859">14</text></g>
<g id="n10"><circle cx="499" cy="963" r="9" class="nb"/><text class="nt" x="499" y="966">10</text></g>
<g id="n11"><circle cx="499" cy="1000" r="9" class="nb"/><text class="nt" x="499" y="1003">11</text></g>
<g id="n12"><circle cx="499" cy="1143" r="9" class="nb"/><text class="nt" x="499" y="1146">12</text></g>
<g id="n16"><circle cx="923" cy="783" r="9" class="nr"/><text class="nt" x="923" y="786">16</text></g>
<g id="n19"><circle cx="1001" cy="496" r="9" class="nb"/><text class="nt" x="1001" y="499">19</text></g>
<g id="n20"><circle cx="1001" cy="604" r="9" class="nb"/><text class="nt" x="1001" y="607">20</text></g>
<g id="n21"><circle cx="1001" cy="963" r="9" class="nb"/><text class="nt" x="1001" y="966">21</text></g>
<g id="n22"><circle cx="1050" cy="712" r="9" class="nr"/><text class="nt" x="1050" y="715">22</text></g>
<g id="n23"><circle cx="1050" cy="856" r="9" class="nr"/><text class="nt" x="1050" y="859">23</text></g>
<g id="n24"><circle cx="1078" cy="1036" r="9" class="nb"/><text class="nt" x="1078" y="1039">24</text></g>
<g id="n25"><circle cx="1078" cy="1180" r="9" class="nb"/><text class="nt" x="1078" y="1183">25</text></g>
<g id="n17"><circle cx="989" cy="1107" r="9" class="nb"/><text class="nt" x="989" y="1110">17</text></g>
<g id="n18"><circle cx="989" cy="1252" r="9" class="nb"/><text class="nt" x="989" y="1255">18</text></g>
<g id="n26"><circle cx="1374" cy="1324" r="9" class="nb"/><text class="nt" x="1374" y="1327">26</text></g>
<g id="n27"><circle cx="1584" cy="1324" r="9" class="nb"/><text class="nt" x="1584" y="1327">27</text></g>
<g id="n28"><circle cx="1632" cy="712" r="9" class="nb"/><text class="nt" x="1632" y="715">28</text></g>
<g id="n29"><circle cx="1804" cy="1072" r="9" class="nb"/><text class="nt" x="1804" y="1075">29</text></g>
<g id="n31"><circle cx="1877" cy="1072" r="9" class="nb"/><text class="nt" x="1877" y="1075">31</text></g>
<g id="n30"><circle cx="1804" cy="1216" r="9" class="nb"/><text class="nt" x="1804" y="1219">30</text></g>
<g id="n32"><circle cx="1877" cy="1216" r="9" class="nb"/><text class="nt" x="1877" y="1219">32</text></g>
<g id="n33"><circle cx="2147" cy="928" r="9" class="nb"/><text class="nt" x="2147" y="931">33</text></g>
<g id="n34"><circle cx="2197" cy="928" r="9" class="nb"/><text class="nt" x="2197" y="931">34</text></g>
<g id="n35"><circle cx="2212" cy="460" r="9" class="nb"/><text class="nt" x="2212" y="463">35</text></g>
<g id="n37"><circle cx="2284" cy="460" r="9" class="nb"/><text class="nt" x="2284" y="463">37</text></g>
<g id="n36"><circle cx="2212" cy="568" r="9" class="nb"/><text class="nt" x="2212" y="571">36</text></g>
<g id="n38"><circle cx="2284" cy="568" r="9" class="nb"/><text class="nt" x="2284" y="571">38</text></g>
<g id="n39"><circle cx="2329" cy="676" r="9" class="nb"/><text class="nt" x="2329" y="679">39</text></g>
<g id="n41"><circle cx="2401" cy="676" r="9" class="nr"/><text class="nt" x="2401" y="679">41</text></g>
<g id="n40"><circle cx="2329" cy="820" r="9" class="nb"/><text class="nt" x="2329" y="823">40</text></g>
<g id="n42"><circle cx="2401" cy="820" r="9" class="nr"/><text class="nt" x="2401" y="823">42</text></g>
<g id="n43"><circle cx="3502" cy="783" r="9" class="nb"/><text class="nt" x="3502" y="786">43</text></g>
<g id="n44"><circle cx="3685" cy="783" r="9" class="nr"/><text class="nt" x="3685" y="786">44</text></g>
</g>

<g id="labels">
<text class="t" x="259" y="188">施工准</text><text class="t" x="259" y="204">备</text><text class="t" x="259" y="225">10</text>
<text class="t" x="333" y="260">承台地梁土方开</text><text class="t" x="333" y="275">挖</text><text class="t" x="333" y="298">30</text>
<text class="t" x="360" y="347">砖胎膜施工</text><text class="t" x="360" y="369">30</text>
<text class="t" x="240" y="298">5</text><text class="t" x="282" y="370">3</text>
<text class="t" x="674" y="334">129</text><text class="t" x="680" y="405">126</text><text class="t" x="323" y="1305">6</text>
<text class="t" x="423" y="513">40</text><text class="t" x="423" y="622">40</text><text class="t" x="450" y="730">54</text><text class="t" x="479" y="766">70</text><text class="t" x="450" y="874">54</text><text class="t" x="423" y="981">40</text><text class="t" x="423" y="1018">40</text><text class="t" x="423" y="1162">40</text>
<text class="t" x="740" y="492">1＃－2＃楼16层以下主体结构验收</text><text class="t" x="740" y="513">130</text>
<text class="t" x="740" y="600">3＃－4＃楼16层以下主体结构验收</text><text class="t" x="740" y="622">130</text>
<text class="t" x="792" y="708">5＃楼16层以下主体结构验收</text><text class="t" x="792" y="730">129</text>
<text class="t" x="695" y="780">住宅总门厅封顶完成</text><text class="t" x="695" y="802">40</text>
<text class="t" x="792" y="851">6＃楼16层以下主体结构验收</text><text class="t" x="792" y="874">129</text>
<text class="t" x="740" y="959">7＃－8＃楼16层以下主体结构验收</text><text class="t" x="740" y="981">130</text>
<text class="t" x="734" y="996">9＃楼16层以下主体结构完成</text><text class="t" x="734" y="1018">127</text>
<text class="t" x="734" y="1140">10＃楼16层以下主体结构完成</text><text class="t" x="734" y="1162">127</text>
<text class="t" x="634" y="1283">地下室结构施工至±0.00</text><text class="t" x="634" y="1305">150</text>
<text class="t" x="1148" y="1283">商业裙楼封顶完成</text><text class="t" x="1148" y="1305">117</text>
<text class="t" x="1478" y="1283">商业裙楼砌体完成</text><text class="t" x="1478" y="1305">54</text><text class="t" x="1478" y="1342">54</text>
<text class="t" x="1612" y="1288">商业</text><text class="t" x="1612" y="1303">裙楼</text><text class="t" x="1612" y="1320">验收</text><text class="t" x="1612" y="1342">1</text>
<text class="t" x="1078" y="403">1＃－2＃楼主体结构</text><text class="t" x="1078" y="418">23层完成</text><text class="t" x="1080" y="442">48</text>
<text class="t" x="1080" y="512">3＃－4＃楼主体结构</text><text class="t" x="1080" y="527">23层完成</text><text class="t" x="1080" y="549">48</text>
<text class="t" x="1132" y="620">5＃楼主体结构23层完</text><text class="t" x="1132" y="635">成</text><text class="t" x="1132" y="657">48</text>
<text class="t" x="1132" y="763">6＃楼主体结构23层完</text><text class="t" x="1132" y="780">成</text><text class="t" x="1132" y="802">48</text>
<text class="t" x="1080" y="872">7＃－8＃楼主体结构</text><text class="t" x="1080" y="887">23层完成</text><text class="t" x="1080" y="909">48</text>
<text class="s" x="1187" y="408">1＃－2＃楼完成销售节点</text>
<text class="s" x="1187" y="517">3＃－4＃楼完成销售节点</text>
<text class="s" x="1237" y="625">5＃楼完成销售节点</text>
<text class="s" x="1237" y="768">6＃楼完成销售节点</text>
<text class="s" x="1187" y="877">7＃－8＃楼完成销售节点</text>
<text class="s" x="999" y="984">9＃楼完成销售节点</text>
<text class="s" x="999" y="1128">10＃楼完成销售节点</text>
<text class="t" x="1015" y="984">9＃楼</text><text class="t" x="1022" y="1001">16层主</text><text class="t" x="1022" y="1018">体结构</text><text class="t" x="1020" y="1032">验收</text><text class="t" x="1020" y="1053">23</text>
<text class="t" x="1020" y="1128">10＃楼</text><text class="t" x="1022" y="1143">16层主</text><text class="t" x="1022" y="1160">体结构</text><text class="t" x="1020" y="1175">验收</text><text class="t" x="1020" y="1198">23</text>
<text class="t" x="1615" y="455">1＃－2＃楼主体结构封顶完成</text><text class="t" x="1615" y="478">191</text>
<text class="t" x="1609" y="492">1＃－2＃楼砌体完成</text><text class="t" x="1609" y="513">272</text>
<text class="t" x="1615" y="563">3＃－4＃楼主体结构封顶完成</text><text class="t" x="1615" y="586">191</text>
<text class="t" x="1609" y="600">3＃－4＃楼砌体完成</text><text class="t" x="1609" y="622">272</text>
<text class="t" x="1655" y="672">5＃楼主体结构封顶完成</text><text class="t" x="1655" y="693">186</text>
<text class="t" x="1690" y="708">5＃楼砌体完成</text><text class="t" x="1692" y="730">272</text>
<text class="s" x="1640" y="708">5＃楼分项验收（消防、规划、质量监督等）</text><text class="t" x="1847" y="730">90</text>
<text class="t" x="1655" y="816">6＃楼主体结构封顶完成</text><text class="t" x="1655" y="837">186</text>
<text class="t" x="1693" y="851">6＃楼砌体完成</text><text class="t" x="1693" y="874">272</text>
<text class="t" x="1601" y="923">7＃－8＃楼主体结构封顶完成</text><text class="t" x="1601" y="946">184</text>
<text class="t" x="1576" y="959">7＃－8＃楼砌体完成</text><text class="t" x="1576" y="982">267</text>
<text class="t" x="1333" y="1067">9＃楼主体结构封顶完成</text><text class="t" x="1331" y="1089">164</text>
<text class="t" x="1399" y="1104">9＃楼砌体完成</text><text class="t" x="1399" y="1125">199</text>
<text class="t" x="1333" y="1211">10＃楼主体结构封顶完成</text><text class="t" x="1331" y="1233">164</text>
<text class="t" x="1399" y="1248">10＃楼砌体完成</text><text class="t" x="1399" y="1269">199</text>
<text class="t" x="2237" y="375">1</text><text class="t" x="2237" y="391">＃－</text><text class="t" x="2237" y="407">2＃</text><text class="t" x="2237" y="422">楼主</text><text class="t" x="2237" y="438">体验</text><text class="t" x="2237" y="455">收</text><text class="t" x="2237" y="483">1</text>
<text class="t" x="2237" y="483">3</text><text class="t" x="2237" y="498">＃－</text><text class="t" x="2237" y="515">4＃</text><text class="t" x="2237" y="532">楼主</text><text class="t" x="2237" y="547">体验</text><text class="t" x="2237" y="563">收</text><text class="t" x="2237" y="587">1</text>
<text class="t" x="2354" y="623">5＃</text><text class="t" x="2354" y="640">楼主</text><text class="t" x="2354" y="655">体验</text><text class="t" x="2354" y="672">收</text><text class="t" x="2354" y="693">1</text>
<text class="t" x="2354" y="767">6＃</text><text class="t" x="2354" y="783">楼主</text><text class="t" x="2354" y="800">体验</text><text class="t" x="2354" y="815">收</text><text class="t" x="2354" y="837">1</text>
<text class="t" x="2162" y="793">7</text><text class="t" x="2162" y="809">＃</text><text class="t" x="2162" y="825">－8</text><text class="t" x="2162" y="841">＃</text><text class="t" x="2162" y="857">楼</text><text class="t" x="2162" y="873">主</text><text class="t" x="2162" y="889">体</text><text class="t" x="2162" y="905">验</text><text class="t" x="2162" y="920">收</text><text class="t" x="2162" y="946">1</text>
<text class="t" x="1830" y="1020">9＃</text><text class="t" x="1830" y="1035">楼主</text><text class="t" x="1830" y="1052">体验</text><text class="t" x="1830" y="1068">收</text><text class="t" x="1830" y="1089">1</text>
<text class="t" x="1830" y="1163">10＃</text><text class="t" x="1830" y="1178">楼主</text><text class="t" x="1830" y="1195">体验</text><text class="t" x="1830" y="1210">收</text><text class="t" x="1830" y="1233">1</text>
<text class="t" x="2870" y="455">1＃－2＃楼外装修与落架完成</text><text class="t" x="2870" y="478">285</text>
<text class="t" x="2870" y="563">3＃－4＃楼外装修与落架完成</text><text class="t" x="2870" y="586">285</text>
<text class="t" x="2954" y="672">5＃楼外装修与落架完成</text><text class="t" x="2954" y="693">286</text>
<text class="t" x="2954" y="816">6＃楼外装修与落架完成</text><text class="t" x="2954" y="837">286</text>
<text class="t" x="2827" y="923">7＃－8＃楼外装修与落架完成</text><text class="t" x="2827" y="946">290</text>
<text class="t" x="2281" y="1067">9＃楼外装修与落架完成</text><text class="t" x="2281" y="1089">160</text>
<text class="t" x="2281" y="1211">10＃楼外装修与落架完成</text><text class="t" x="2281" y="1233">160</text>
<text class="t" x="3585" y="747">竣工验收（含竣工</text><text class="t" x="3585" y="763">备案、资料、归档</text><text class="t" x="3581" y="780">等）</text><text class="t" x="3585" y="802">47</text>
</g>

<g id="legend">
<text class="s" x="62" y="1470">图例：</text>
<text class="s" x="119" y="1470">关键任务</text>
<path class="crit" d="M199,1464H239" marker-end="url(#aR)"/>
<text class="s" x="255" y="1470">一般任务</text>
<path class="norm" d="M334,1464H376" marker-end="url(#aK)"/>
<text class="s" x="390" y="1470">里程碑任务</text>
<use href="#star" x="489" y="1464"/>
<text class="s" x="525" y="1470">逻辑关系</text>
<path class="lh" d="M605,1464H647" marker-end="url(#aM)"/>
<text class="s" x="663" y="1470">自由时差</text>
<path class="gz" d="M740,1463H760M740,1465H760" style="stroke-dasharray:2 2"/>
<path class="norm" d="M760,1464H782" marker-end="url(#aK)"/>
</g>

<g id="titleblock">
<path class="g2" d="M3157,1439V1552M3157,1460H3756M3157,1478H3756M3157,1496H3756M3157,1514H3756M3157,1532H3756M3276,1460V1532M3456,1460V1552M3576,1460V1532"/>
<text class="t" x="3456" y="1456">海沧生态花园住宅主体工程</text>
<text class="t" x="3216" y="1474">编制人</text><text class="t" x="3516" y="1474">负责人</text>
<text class="t" x="3216" y="1492">绘图人</text><text class="t" x="3516" y="1492">开始时间</text><text class="t" x="3666" y="1492">2014年4月1日</text>
<text class="t" x="3216" y="1510">审核人</text><text class="t" x="3516" y="1510">结束时间</text><text class="t" x="3666" y="1510">2016年06月10日</text>
<text class="t" x="3216" y="1528">校对人</text><text class="t" x="3516" y="1528">工期</text><text class="t" x="3666" y="1528">802天</text>
<text class="t" x="3606" y="1546">2014-02-19</text>
</g>
</svg>
